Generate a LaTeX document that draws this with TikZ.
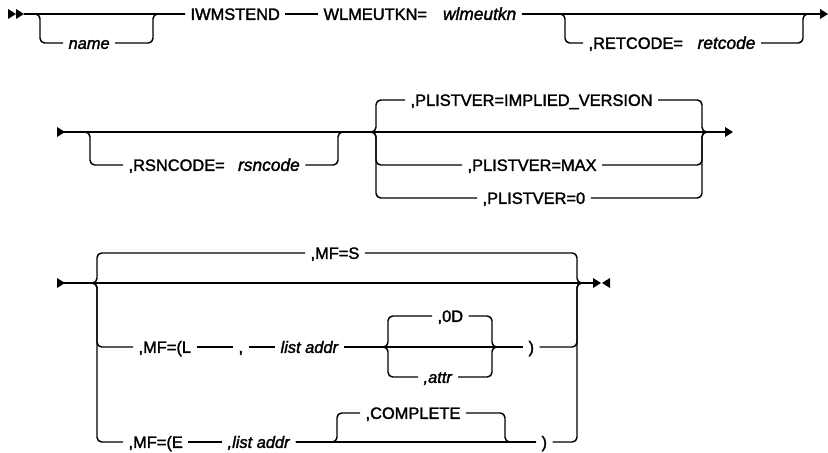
\documentclass[tikz,border=0pt]{standalone}
\usepackage{fontspec}
\setmainfont{Liberation Sans}[
  BoldFont={Liberation Sans}, BoldFeatures={FakeBold=1.8},
  BoldItalicFont={Liberation Sans Italic}, BoldItalicFeatures={FakeBold=1.8}]
\tikzset{
  rail/.style={line width=1.1pt, line join=round},
  railbend/.style={rail, rounded corners=3.5pt},
  token/.style={
    anchor=west, inner xsep=4pt, inner ysep=0pt,
    text height=8.8pt, text depth=0pt,
    font=\fontsize{12.3}{14}\selectfont\bfseries
  },
  railtip/.style={fill=black}
}
\begin{document}
\begin{tikzpicture}[x=0.75pt, y=-0.75pt]
  \useasboundingbox (0,0) rectangle (828,453);

  % row 1
  \coordinate (r1s) at (24,14);
  \coordinate (r1e) at (820,14);
  \node[token] (nm) at (63,43) {\textit{name}};
  \node[token] (iw) at (185,14) {IWMSTEND};
  \node[token] (wl) at (318,14) {WLMEUTKN=\hspace{12pt}\textit{\fontsize{13}{14}\selectfont wlmeutkn}};
  \node[token] (rc) at (583,43) {,RETCODE=\hspace{11pt}\textit{\fontsize{13}{14}\selectfont retcode}};
  \fill[railtip] (8,9) -- (16,14) -- (8,19) -- cycle;
  \fill[railtip] (16,9) -- (24,14) -- (16,19) -- cycle;
  \draw[rail] (r1s) -- (iw);
  \draw[railbend] (r1s) -- (40,14) -- (40,43) -- (nm);
  \draw[railbend] (nm) -- (153,43) -- (153,14) -- (iw);
  \draw[rail] (iw) -- (wl);
  \draw[rail] (wl) -- (r1e);
  \draw[railbend] (wl) -- (565,14) -- (565,43) -- (rc);
  \draw[railbend] (rc) -- (803,43) -- (803,14) -- (r1e);
  \fill[railtip] (820,9) -- (828,14) -- (820,19) -- cycle;

  % row 2
  \coordinate (r2s) at (64,132);
  \coordinate (r2e) at (725,132);
  \coordinate (l2) at (368,132);
  \coordinate (r2) at (710,132);
  \node[token] (rs) at (123,165) {,RSNCODE=\hspace{10pt}\textit{\fontsize{13}{14}\selectfont rsncode}};
  \node[token] (pi) at (405,100) {,PLISTVER=IMPLIED\_VERSION};
  \node[token] (pm) at (462,165) {,PLISTVER=MAX};
  \node[token] (pz) at (477,198) {,PLISTVER=0};
  \fill[railtip] (57,127) -- (65,132) -- (57,137) -- cycle;
  \draw[rail] (r2s) -- (r2e);
  \draw[railbend] (r2s) -- (90,132) -- (90,165) -- (rs);
  \draw[railbend] (rs) -- (338,165) -- (338,132) -- (l2);
  \draw[railbend] (l2) -- (376,132) -- (376,100) -- (pi);
  \draw[railbend] (l2) -- (376,132) -- (376,165) -- (pm);
  \draw[railbend] (l2) -- (376,132) -- (376,198) -- (pz);
  \draw[railbend] (pi) -- (702,100) -- (702,132) -- (r2);
  \draw[railbend] (pm) -- (702,165) -- (702,132) -- (r2);
  \draw[railbend] (pz) -- (702,198) -- (702,132) -- (r2);
  \fill[railtip] (725,127) -- (733,132) -- (725,137) -- cycle;

  % row 3
  \coordinate (r3s) at (64,283);
  \coordinate (r3e) at (593,283);
  \coordinate (l3) at (89,283);
  \coordinate (r3) at (585,283);
  \coordinate (l4) at (380,347);
  \coordinate (r4) at (500,347);
  \node[token] (ms) at (305,253) {,MF=S};
  \node[token] (ml) at (133,347) {,MF=(L};
  \node[token] (cm) at (233,347) {,};
  \node[token] (la) at (275,347) {\textit{list addr}};
  \node[token] (od) at (432,316) {,0D};
  \node[token] (at) at (418,377) {\textit{,attr}};
  \node[token] (pl) at (523,347) {)};
  \node[token] (me) at (123,442) {,MF=(E};
  \node[token] (le) at (222,442) {\textit{,list addr}};
  \node[token] (cp) at (360,413) {,COMPLETE};
  \node[token] (pe) at (536,442) {)};
  \fill[railtip] (57,278) -- (65,283) -- (57,288) -- cycle;
  \draw[rail] (r3s) -- (r3e);
  \draw[railbend] (l3) -- (97,283) -- (97,253) -- (ms);
  \draw[railbend] (l3) -- (97,283) -- (97,347) -- (ml);
  \draw[railbend] (l3) -- (97,283) -- (97,442) -- (me);
  \draw[rail] (ml) -- (cm);
  \draw[rail] (cm) -- (la);
  \draw[rail] (la) -- (r4);
  \draw[railbend] (l4) -- (388,347) -- (388,316) -- (od);
  \draw[railbend] (l4) -- (388,347) -- (388,377) -- (at);
  \draw[railbend] (od) -- (492,316) -- (492,347) -- (r4);
  \draw[railbend] (at) -- (492,377) -- (492,347) -- (r4);
  \draw[rail] (r4) -- (pl);
  \draw[rail] (me) -- (le);
  \draw[rail] (le) -- (pe);
  \draw[railbend] (le) -- (337,442) -- (337,413) -- (cp);
  \draw[railbend] (cp) -- (505,413) -- (505,442) -- (pe);
  \draw[railbend] (ms) -- (577,253) -- (577,283) -- (r3);
  \draw[railbend] (pl) -- (577,347) -- (577,283) -- (r3);
  \draw[railbend] (pe) -- (577,442) -- (577,283) -- (r3);
  \fill[railtip] (593,278) -- (601,283) -- (593,288) -- cycle;
  \fill[railtip] (610,278) -- (602,283) -- (610,288) -- cycle;
\end{tikzpicture}
\end{document}
